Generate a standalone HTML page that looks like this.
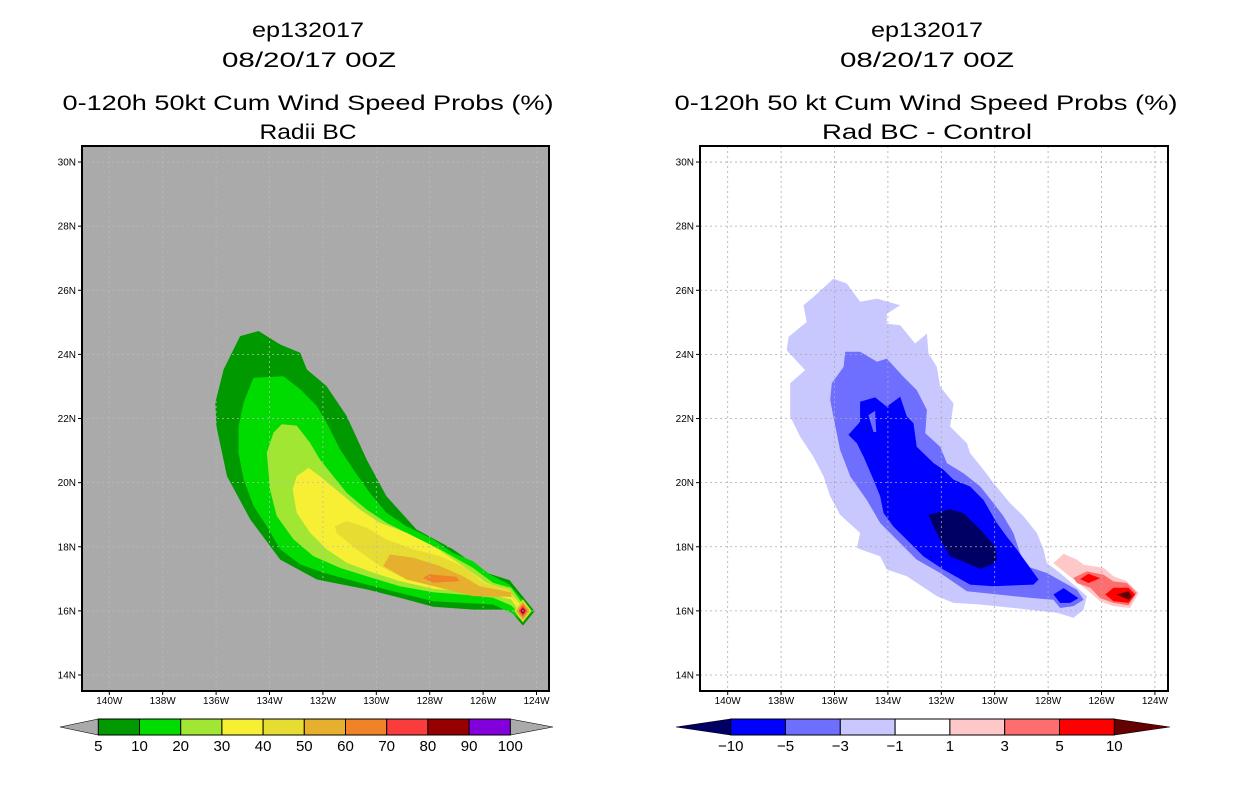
<!DOCTYPE html>
<html><head><meta charset="utf-8"><style>
html,body{margin:0;padding:0;background:#fff;}
svg{display:block;font-family:"Liberation Sans",sans-serif;}
</style></head><body>
<svg id="chart" width="1236" height="800" viewBox="0 0 1236 800">
<g font-size="21" text-anchor="middle" fill="#000" font-weight="normal">
<text x="308" y="37" textLength="112" lengthAdjust="spacingAndGlyphs">ep132017</text>
<text x="309" y="67" textLength="174" lengthAdjust="spacingAndGlyphs">08/20/17 00Z</text>
<text x="308" y="110" textLength="491" lengthAdjust="spacingAndGlyphs">0-120h 50kt Cum Wind Speed Probs (%)</text>
<text x="308" y="139" textLength="97" lengthAdjust="spacingAndGlyphs">Radii BC</text>
</g>
<g font-size="21" text-anchor="middle" fill="#000">
<text x="927" y="37" textLength="112" lengthAdjust="spacingAndGlyphs">ep132017</text>
<text x="927" y="67" textLength="174" lengthAdjust="spacingAndGlyphs">08/20/17 00Z</text>
<text x="926" y="110" textLength="503" lengthAdjust="spacingAndGlyphs">0-120h 50 kt Cum Wind Speed Probs (%)</text>
<text x="927" y="139" textLength="210" lengthAdjust="spacingAndGlyphs">Rad BC - Control</text>
</g>
<g id="left"></g>
<g id="right"></g>
<g id="leftbar"></g>
<g id="rightbar"></g>
</svg>
<script>
const lonTicks=[-140,-138,-136,-134,-132,-130,-128,-126,-124];
const latTicks=[14,16,18,20,22,24,26,28,30];
const leftBarLabels=["5","10","20","30","40","50","60","70","80","90","100"];
const leftBarColors=["#009a00","#00dc00","#a0e632","#f7ef33","#e6dc32","#e6af2d","#f08228","#fa3c3c","#960000","#8200dc"];
const rightBarLabels=["-10","-5","-3","-1","1","3","5","10"];
const rightBarColors=["#0000ff","#6e6eff","#c8c8ff","#ffffff","#ffc8c8","#ff6e6e","#ff0000"];

const L5=[[-136.03,22.49],[-135.72,23.53],[-135.10,24.57],[-134.41,24.73],[-133.60,24.31],[-132.85,24.05],[-132.60,23.53],[-131.86,23.01],[-131.11,22.08],[-130.36,20.72],[-129.62,19.58],[-128.50,18.54],[-127.13,17.92],[-125.88,17.19],[-125.01,16.96],[-124.07,15.99],[-124.51,15.54],[-125.01,16.04],[-126.38,16.04],[-127.87,16.13],[-129.12,16.41],[-130.36,16.67],[-132.23,16.98],[-133.60,17.60],[-134.72,18.85],[-135.59,20.20],[-135.99,21.76]];
const L10=[[-134.60,23.27],[-133.48,23.32],[-132.85,22.91],[-132.23,22.39],[-131.86,21.87],[-131.36,21.04],[-130.86,20.41],[-130.24,19.68],[-129.62,19.06],[-128.87,18.64],[-127.87,18.23],[-127.13,17.81],[-126.38,17.55],[-125.76,17.14],[-125.01,16.82],[-124.14,15.99],[-124.51,15.68],[-124.95,15.94],[-125.63,16.20],[-126.38,16.23],[-127.87,16.30],[-129.12,16.56],[-130.61,16.88],[-131.98,17.19],[-132.85,17.45],[-133.60,17.92],[-134.10,18.64],[-134.60,19.27],[-134.97,20.10],[-135.16,20.93],[-135.16,21.76],[-134.97,22.49]];
const L20=[[-133.54,21.82],[-132.98,21.78],[-132.48,21.24],[-132.11,20.72],[-131.61,20.20],[-131.11,19.68],[-130.36,19.16],[-129.62,18.75],[-128.62,18.33],[-127.62,17.92],[-126.38,17.34],[-125.63,16.88],[-124.95,16.72],[-124.32,15.99],[-124.51,15.80],[-124.95,16.17],[-125.63,16.41],[-126.38,16.48],[-127.87,16.58],[-129.12,16.77],[-130.36,17.08],[-131.36,17.34],[-132.36,17.71],[-133.10,18.23],[-133.73,18.96],[-133.98,19.79],[-134.10,20.93],[-133.85,21.56]];
const L30=[[-132.98,20.20],[-132.54,20.46],[-132.11,20.20],[-131.36,19.68],[-130.61,19.16],[-129.87,18.75],[-128.87,18.44],[-127.87,18.02],[-126.75,17.40],[-125.88,16.88],[-125.01,16.62],[-124.45,16.04],[-124.57,15.89],[-124.95,16.36],[-125.88,16.54],[-127.87,16.69],[-129.12,16.93],[-130.11,17.19],[-131.11,17.50],[-131.86,17.92],[-132.48,18.44],[-132.98,19.06],[-133.13,19.79]];
const L40=[[-131.55,18.64],[-131.11,18.80],[-130.36,18.59],[-129.62,18.23],[-128.62,17.92],[-127.62,17.71],[-126.63,17.34],[-126.00,16.88],[-125.01,16.67],[-124.61,16.04],[-124.88,16.41],[-126.00,16.58],[-127.62,16.77],[-128.87,16.98],[-129.87,17.40],[-130.74,17.92],[-131.49,18.44]];
const L50=[[-129.74,17.40],[-129.49,17.76],[-128.62,17.66],[-127.62,17.40],[-126.75,17.08],[-126.13,16.77],[-124.95,16.58],[-124.95,16.44],[-126.38,16.46],[-127.62,16.72],[-128.87,16.98]];
const L60=[[-128.25,17.03],[-128.00,17.14],[-127.00,17.06],[-126.88,16.93],[-127.87,16.88]];
const peakCenter=[-124.51,16.0];
const peakLevelColors=["#e6dc32","#e6af2d","#f08228","#fa3c3c","#960000","#8200dc"];
const peakHalfSizes=[0.36,0.29,0.22,0.16,0.1,0.05];

const Rm1=[[-137.72,24.55],[-137.04,25.01],[-137.16,25.53],[-136.79,25.79],[-136.04,26.36],[-135.54,26.21],[-135.04,25.64],[-134.41,25.74],[-133.54,25.53],[-134.04,25.27],[-134.04,24.96],[-133.54,24.91],[-132.98,24.34],[-132.54,24.65],[-132.48,24.03],[-132.17,23.61],[-132.04,22.99],[-131.54,22.47],[-131.67,21.75],[-131.04,21.23],[-130.92,20.92],[-130.42,20.40],[-130.04,19.98],[-129.42,19.36],[-128.92,18.95],[-128.42,18.43],[-128.17,17.91],[-128.05,17.49],[-127.55,17.18],[-126.55,16.46],[-126.67,16.04],[-127.05,15.78],[-127.67,15.94],[-129.30,16.09],[-130.54,16.20],[-131.54,16.25],[-132.17,16.46],[-133.29,17.08],[-134.04,17.29],[-134.29,17.70],[-135.16,17.96],[-135.04,18.43],[-135.79,19.00],[-136.16,19.57],[-136.41,20.19],[-136.79,20.81],[-137.29,21.44],[-137.66,22.06],[-137.66,23.10],[-137.10,23.51],[-137.79,24.13]];
const Rm3=[[-135.60,24.08],[-135.04,24.08],[-134.41,23.77],[-134.04,23.87],[-133.42,23.30],[-132.92,22.89],[-132.54,22.27],[-132.60,21.54],[-132.04,21.12],[-131.79,20.61],[-131.17,20.29],[-130.54,19.88],[-130.04,19.36],[-129.67,18.95],[-129.30,18.43],[-129.05,17.80],[-128.80,17.39],[-128.05,17.18],[-126.92,16.66],[-126.67,16.35],[-127.05,16.15],[-127.55,16.09],[-127.80,16.35],[-128.55,16.40],[-129.30,16.46],[-131.04,16.61],[-132.04,17.18],[-132.92,17.60],[-133.42,18.01],[-134.29,18.74],[-134.79,19.46],[-135.41,20.19],[-135.79,21.02],[-136.04,22.06],[-136.16,22.58],[-136.10,23.10],[-135.66,23.61]];
const Rm5=[[-135.04,22.52],[-134.48,22.66],[-134.04,22.37],[-133.54,22.68],[-133.29,22.06],[-133.04,21.85],[-132.92,21.12],[-132.29,20.61],[-131.92,20.40],[-131.54,20.09],[-130.92,19.88],[-130.42,19.46],[-129.92,18.74],[-129.55,18.32],[-129.17,17.91],[-128.80,17.49],[-128.36,16.98],[-128.55,16.82],[-130.04,16.77],[-130.92,16.82],[-131.92,17.29],[-132.67,17.70],[-133.04,18.01],[-133.79,18.63],[-134.16,19.05],[-134.29,19.57],[-134.54,20.09],[-134.91,20.81],[-135.16,21.23],[-135.48,21.49],[-135.04,21.90]];
const Rm3hole=[[-134.73,22.10],[-134.48,22.24],[-134.44,21.58],[-134.54,21.58]];
const Rm5b=[[-127.80,16.51],[-127.42,16.71],[-126.86,16.40],[-127.17,16.25],[-127.55,16.25]];
const Rm10=[[-132.48,19.00],[-131.67,19.17],[-131.17,19.05],[-130.54,18.53],[-129.98,18.01],[-129.92,17.60],[-130.11,17.44],[-130.54,17.31],[-131.04,17.49],[-131.67,17.70],[-132.04,18.22],[-132.29,18.63]];
const Rp1=[[-127.80,17.49],[-127.42,17.78],[-126.92,17.60],[-126.67,17.44],[-125.92,17.34],[-125.55,17.08],[-125.05,16.92],[-124.61,16.56],[-124.93,16.09],[-125.55,16.15],[-126.05,16.30],[-126.55,16.66],[-127.05,16.98],[-127.42,17.23]];
const Rp3=[[-127.05,17.03],[-126.55,17.23],[-125.92,17.13],[-125.55,16.92],[-125.05,16.87],[-124.68,16.56],[-124.99,16.17],[-125.55,16.25],[-126.05,16.40],[-126.42,16.72],[-126.92,16.87]];
const Rp5a=[[-126.80,16.99],[-126.49,17.16],[-126.05,17.02],[-126.49,16.87]];
const Rp5b=[[-125.86,16.51],[-125.55,16.72],[-124.99,16.72],[-124.74,16.51],[-124.99,16.25],[-125.55,16.30]];
const Rp10=[[-125.43,16.51],[-124.99,16.61],[-124.86,16.46],[-124.99,16.35]];

const NS="http://www.w3.org/2000/svg";
function mk(tag,attrs,parent){const e=document.createElementNS(NS,tag);for(const k in attrs)e.setAttribute(k,attrs[k]);parent.appendChild(e);return e;}
function makeAxes(x0,pxPerDeg){return {x:lon=>x0+(lon+140)*pxPerDeg,y:lat=>675-(lat-14)*32.06};}
const AL=makeAxes(109.3,26.7), AR=makeAxes(727.7,26.7);

function poly(g,ax,pts,color,name){
  const p=mk('polygon',{points:pts.map(q=>ax.x(q[0]).toFixed(1)+','+ax.y(q[1]).toFixed(1)).join(' '),fill:color},g);
  
  
}
function panel(g,ax,left,right,bg,gridColor,drawContours){
  const bgr=mk('rect',{x:left,y:146,width:right-left,height:545,fill:bg},g);
  
  
  drawContours();
  const grid=mk('g',{stroke:gridColor,'stroke-width':0.8,'stroke-dasharray':'2,3'},g);
  
  
  lonTicks.forEach(v=>{mk('line',{x1:ax.x(v),x2:ax.x(v),y1:146,y2:691},grid);});
  latTicks.forEach(v=>{mk('line',{x1:left,x2:right,y1:ax.y(v),y2:ax.y(v)},grid);});
  const fr=mk('rect',{x:left,y:146,width:right-left,height:545,fill:'none',stroke:'#000','stroke-width':2},g);
  
  
  lonTicks.forEach(v=>{
    mk('line',{x1:ax.x(v),x2:ax.x(v),y1:691,y2:695,stroke:'#000'},g);
    const t=mk('text',{x:ax.x(v),y:704,'font-size':10,'text-anchor':'middle'},g);
    t.textContent=Math.abs(v)+'W';
    
    
  });
  latTicks.forEach(v=>{
    mk('line',{x1:left-4,x2:left,y1:ax.y(v),y2:ax.y(v),stroke:'#000'},g);
    const t=mk('text',{x:left-6,y:ax.y(v)+3.5,'font-size':10,'text-anchor':'end'},g);
    t.textContent=v+'N';
    
    
  });
}
const gl=document.getElementById('left');
panel(gl,AL,82,549,'#aaaaaa','#bbbbbb',()=>{
  poly(gl,AL,L5,leftBarColors[0],'contour-5');
  poly(gl,AL,L10,leftBarColors[1],'contour-10');
  poly(gl,AL,L20,leftBarColors[2],'contour-20');
  poly(gl,AL,L30,leftBarColors[3],'contour-30');
  poly(gl,AL,L40,leftBarColors[4],'contour-40');
  poly(gl,AL,L50,leftBarColors[5],'contour-50');
  poly(gl,AL,L60,leftBarColors[6],'contour-60');
  peakHalfSizes.forEach((h,i)=>{
    const c=peakCenter;
    poly(gl,AL,[[c[0],c[1]+h],[c[0]+h*0.9,c[1]],[c[0],c[1]-h],[c[0]-h*0.9,c[1]]],peakLevelColors[i],'peak-diamond');
  });
});
const gr=document.getElementById('right');
panel(gr,AR,700,1168,'#ffffff','#aaaaaa',()=>{
  poly(gr,AR,Rm1,'#c8c8ff','contour-minus-1');
  poly(gr,AR,Rm3,'#6e6eff','contour-minus-3');
  poly(gr,AR,Rm5,'#0000ff','contour-minus-5');
  poly(gr,AR,Rm3hole,'#6e6eff','contour-minus-3-hole');
  poly(gr,AR,Rm5b,'#0000ff','contour-minus-5-east');
  poly(gr,AR,Rm10,'#000064','contour-minus-10');
  poly(gr,AR,Rp1,'#ffc8c8','contour-plus-1');
  poly(gr,AR,Rp3,'#ff6e6e','contour-plus-3');
  poly(gr,AR,Rp5a,'#ff0000','contour-plus-5-west');
  poly(gr,AR,Rp5b,'#ff0000','contour-plus-5-east');
  poly(gr,AR,Rp10,'#640000','contour-plus-10');
});

function colorbar(g,x0,x1,colors,labels,leftTri,rightTri,triL,triR){
  const w=(x1-x0)/colors.length, y0=719, y1=735, ym=727;
  const a=mk('polygon',{points:`${triL},${ym} ${x0},${y0} ${x0},${y1}`,fill:leftTri,stroke:'#000','stroke-width':0.6},g);
  
  
  const b=mk('polygon',{points:`${triR},${ym} ${x1},${y0} ${x1},${y1}`,fill:rightTri,stroke:'#000','stroke-width':0.6},g);
  
  
  colors.forEach((c,i)=>{
    const r=mk('rect',{x:x0+i*w,y:y0,width:w,height:y1-y0,fill:c,stroke:'#000','stroke-width':1},g);
    
    
  });
  labels.forEach((l,i)=>{
    const t=mk('text',{x:x0+i*w,y:751,'font-size':15,'text-anchor':'middle'},g);
    t.textContent=l.replace('-','\u2212');
    
    
  });
}
colorbar(document.getElementById('leftbar'),98.3,510.3,leftBarColors,leftBarLabels,'#aaaaaa','#aaaaaa',60,553);
colorbar(document.getElementById('rightbar'),730.7,1114.3,rightBarColors,rightBarLabels,'#000064','#640000',676,1170);
</script>
</body></html>
